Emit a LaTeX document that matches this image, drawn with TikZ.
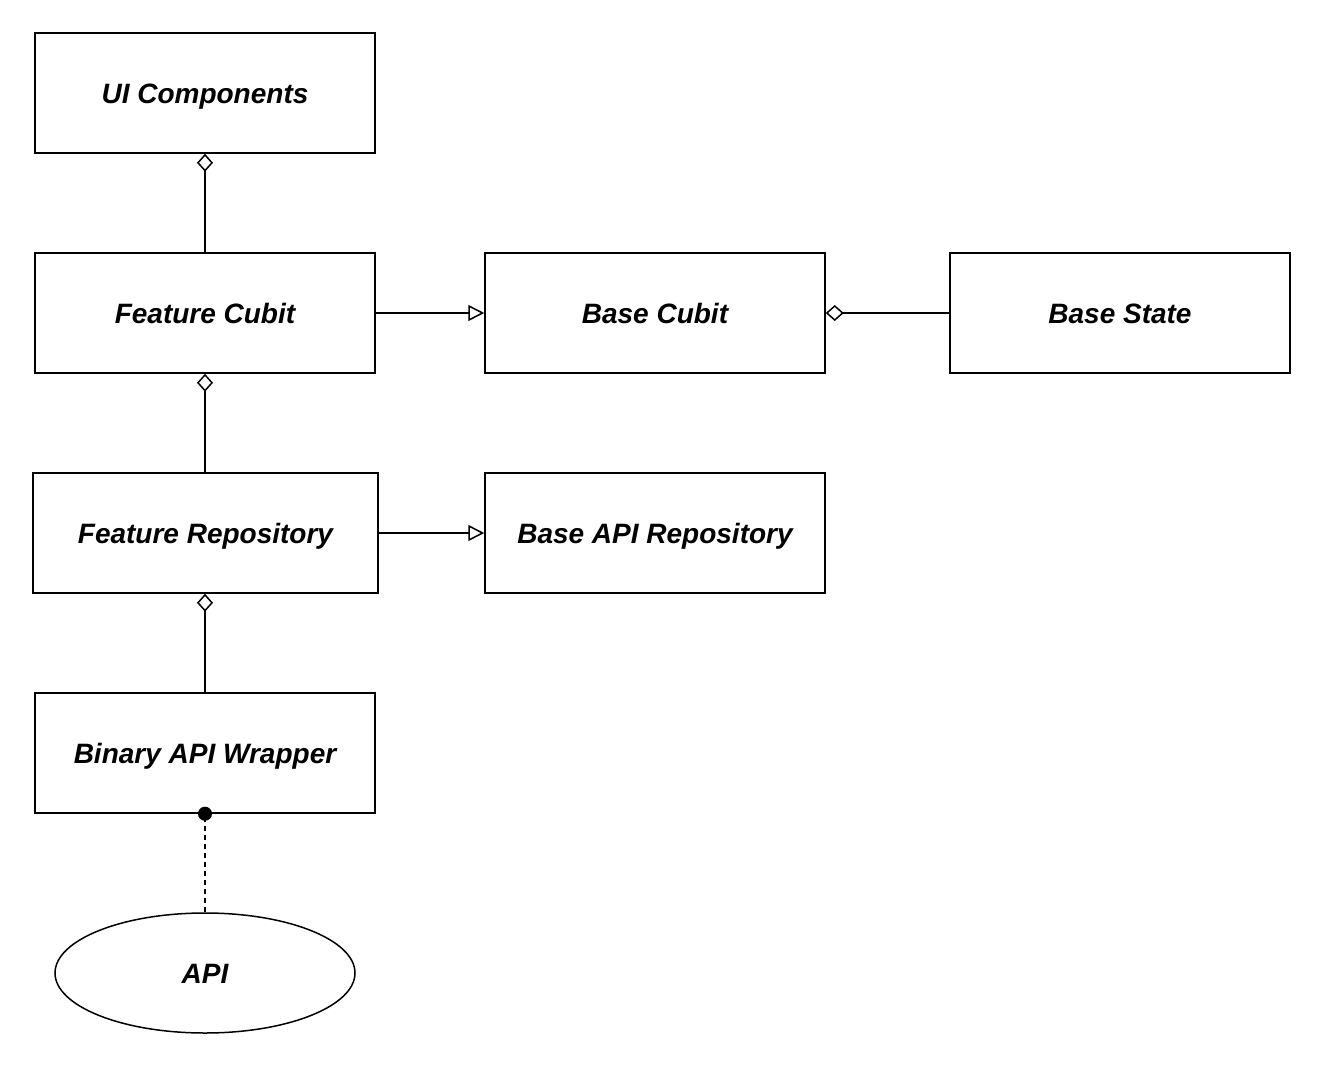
\documentclass[tikz,border=0pt]{standalone}
\usepackage{fontspec}
\setmainfont{Liberation Sans}
\usepackage{tikz}
\usetikzlibrary{arrows.meta,positioning,shapes.geometric}

\tikzset{
    box/.style={draw, line width=0.75pt, minimum width=170pt, minimum height=60pt,
        inner sep=0pt, text height=10pt, text depth=0pt,
        font=\fontsize{14}{16}\selectfont\bfseries\itshape},
    agg/.style={-{Diamond[open,length=9pt,width=8pt]}, line width=0.75pt},
    inherit/.style={-{Triangle[open,length=8pt,width=8pt]}, line width=0.75pt},
    uses/.style={-{Circle[length=7pt]}, shorten >=-3.5pt, line width=0.75pt,
        dash pattern=on 2.5pt off 2pt}
}

\begin{document}
\begin{tikzpicture}[x=0.5pt,y=-0.5pt]

    \useasboundingbox (0,0) rectangle (1324,1066);

    \node[box] at (205,93) (ui_components) {UI Components};
    \node[box] at (205,313) (feature_cubit) {Feature Cubit};
    \node[box] at (655,313) (base_cubit) {Base Cubit};
    \node[box] at (1120,313) (base_state) {Base State};
    \node[box, minimum width=172.5pt] at (205.5,533) (feature_repo) {Feature Repository};
    \node[box] at (655,533) (base_api_repo) {Base API Repository};
    \node[box] at (205,753) (binary_wrapper) {Binary API Wrapper};
    \node[box, ellipse, minimum width=150pt, minimum height=60pt] at (205,973) (api) {API};

    \draw [agg] (feature_cubit.north) -- (ui_components.south);
    \draw [inherit] (feature_cubit.east) -- (base_cubit.west);
    \draw [agg] (base_state.west) -- (base_cubit.east);
    \draw [agg] (feature_repo.north -| feature_cubit.south) -- (feature_cubit.south);
    \draw [inherit] (feature_repo.east) -- (base_api_repo.west);
    \draw [agg] (binary_wrapper.north) -- (binary_wrapper.north |- feature_repo.south);
    \draw [uses] (api.north) -- (binary_wrapper.south);

\end{tikzpicture}
\end{document}
